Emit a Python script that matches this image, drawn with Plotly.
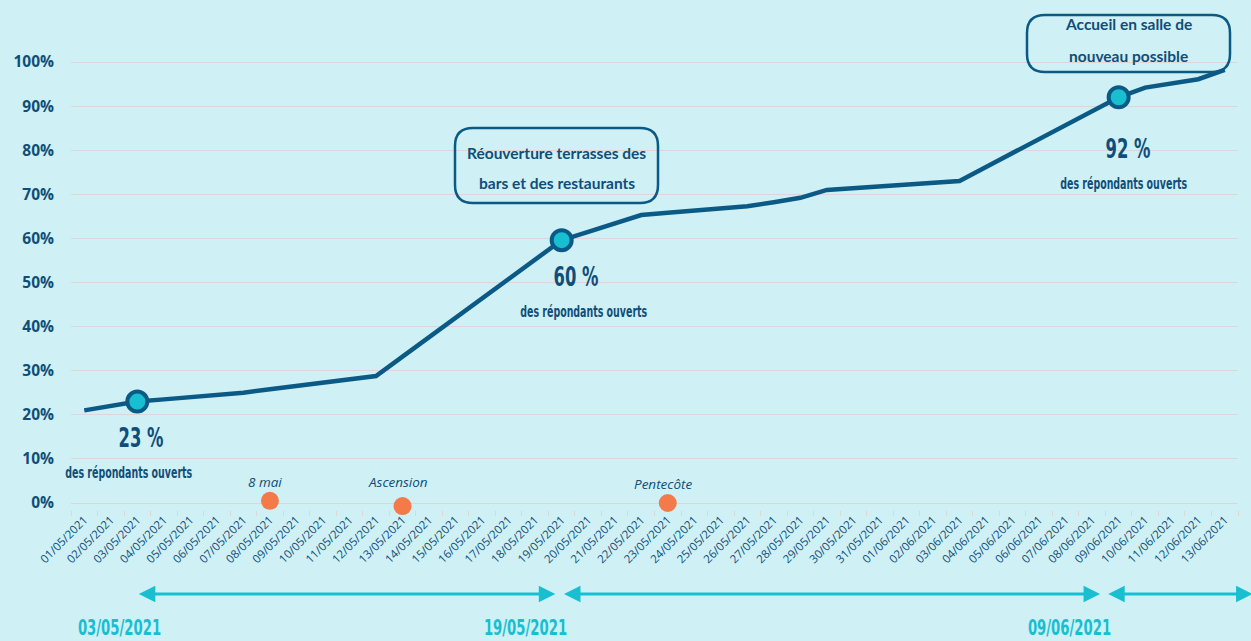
import json
import plotly.graph_objects as go

# ---------------- data ----------------
dates = [
    "01/05/2021", "02/05/2021", "03/05/2021", "04/05/2021", "05/05/2021", "06/05/2021",
    "07/05/2021", "08/05/2021", "09/05/2021", "10/05/2021", "11/05/2021", "12/05/2021",
    "13/05/2021", "14/05/2021", "15/05/2021", "16/05/2021", "17/05/2021", "18/05/2021",
    "19/05/2021", "20/05/2021", "21/05/2021", "22/05/2021", "23/05/2021", "24/05/2021",
    "25/05/2021", "26/05/2021", "27/05/2021", "28/05/2021", "29/05/2021", "30/05/2021",
    "31/05/2021", "01/06/2021", "02/06/2021", "03/06/2021", "04/06/2021", "05/06/2021",
    "06/06/2021", "07/06/2021", "08/06/2021", "09/06/2021", "10/06/2021", "11/06/2021",
    "12/06/2021", "13/06/2021",
]
pct_open = [
    21.0, 22.0, 23.0, 23.5, 24.0, 24.5,
    25.0, 25.8, 26.5, 27.2, 28.0, 28.8,
    33.2, 37.6, 42.0, 46.4, 50.8, 55.2,
    59.6, 61.5, 63.4, 65.3, 65.8, 66.3,
    66.8, 67.3, 68.2, 69.2, 71.0, 71.4,
    71.8, 72.2, 72.6, 73.0, 76.2, 79.4,
    82.5, 85.6, 88.8, 92.0, 94.2, 95.2,
    96.1, 98.2,
]
key_dates = ["03/05/2021", "19/05/2021", "09/06/2021"]
key_labels = ["23 %", "60 %", "92 %"]
key_sub = "des répondants ouverts"

holiday_names = ["8 mai", "Ascension", "Pentecôte"]
holiday_dates = ["08/05/2021", "13/05/2021", "23/05/2021"]
holiday_vals = [0.5, -0.7, 0.0]

event_lines = [
    ["Réouverture terrasses des", "bars et des restaurants"],
    ["Accueil en salle de", "nouveau possible"],
]
phase_labels = ["03/05/2021", "19/05/2021", "09/06/2021"]
y_ticks = list(range(0, 101, 10))
y_ticktext = [f"{v}%" for v in y_ticks]

# ---------------- styles ----------------
BG = "#CFF0F5"
NAVY = "#0B5A86"
TXT = "#0F4E78"
CYAN = "#17BFD1"
ORANGE = "#F47B49"
GRID = "#DCD7D7"
NARROW = "DejaVu Sans Condensed, DejaVu Sans, sans-serif"

W, H = 1251, 641
ML, MR, MT, MB = 71, 13, 40, 131
PLOT_W = W - ML - MR
PLOT_H = H - MT - MB
Y0_PX, PX_PER_UNIT = 503, 4.41  # pixel row of 0% and pixels per percent
yrange = [(Y0_PX - (H - MB)) / PX_PER_UNIT, (Y0_PX - MT) / PX_PER_UNIT]


def px_x(px):
    return (px - ML) / PLOT_W


def px_y(py):
    return ((H - MB) - py) / PLOT_H


fig = go.Figure()

# main line
fig.add_trace(go.Scatter(
    x=dates, y=pct_open, mode="lines",
    line=dict(color=NAVY, width=4.5), hoverinfo="skip", showlegend=False,
))

# key points
key_vals = [pct_open[dates.index(d)] for d in key_dates]
fig.add_trace(go.Scatter(
    x=key_dates, y=key_vals, mode="markers",
    marker=dict(size=20, color=CYAN, line=dict(color=NAVY, width=4)),
    showlegend=False, hoverinfo="skip",
))

# holidays
fig.add_trace(go.Scatter(
    x=holiday_dates, y=holiday_vals, mode="markers",
    marker=dict(size=18, color=ORANGE),
    showlegend=False, hoverinfo="skip", cliponaxis=False,
))

annotations = []
# holiday labels
for name, d, v in zip(holiday_names, holiday_dates, holiday_vals):
    annotations.append(dict(
        x=d, y=v, xref="x", yref="y", text=name, showarrow=False,
        xanchor="center", yanchor="middle",
        yshift=19 if name != "Ascension" else 24, xshift=-5,
        font=dict(family="Open Sans, sans-serif", size=13.5, color=TXT, style="italic"),
    ))

# key point labels
big_shift = [(4, -36), (14, -37), (9, -52)]
sub_shift = [(-9, -71), (22, -72), (5, -87)]
for d, v, lab, bs, ss in zip(key_dates, key_vals, key_labels, big_shift, sub_shift):
    annotations.append(dict(
        x=d, y=v, xref="x", yref="y", text=lab, showarrow=False,
        xanchor="center", yanchor="middle",
        xshift=bs[0], yshift=bs[1],
        font=dict(family=NARROW, size=26, color=TXT, weight="bold"),
    ))
    annotations.append(dict(
        x=d, y=v, xref="x", yref="y", text=key_sub, showarrow=False,
        xanchor="center", yanchor="middle",
        xshift=ss[0], yshift=ss[1],
        font=dict(family=NARROW, size=15, color=TXT, weight="bold"),
    ))

# event boxes (pixel layout converted to paper coords)
boxes_px = [(455, 128, 658, 203), (1027, 15, 1230, 72)]
box_line_y = [(153, 183), (24, 56)]
shapes = []
for (x0, y0, x1, y1), lines, ly in zip(boxes_px, event_lines, box_line_y):
    r = 18
    X0, X1 = px_x(x0), px_x(x1)
    Y0, Y1 = px_y(y1), px_y(y0)
    rx, ry = r / PLOT_W, r / PLOT_H
    path = (f"M{X0+rx},{Y0} L{X1-rx},{Y0} Q{X1},{Y0} {X1},{Y0+ry} "
            f"L{X1},{Y1-ry} Q{X1},{Y1} {X1-rx},{Y1} L{X0+rx},{Y1} "
            f"Q{X0},{Y1} {X0},{Y1-ry} L{X0},{Y0+ry} Q{X0},{Y0} {X0+rx},{Y0} Z")
    shapes.append(dict(type="path", path=path, xref="paper", yref="paper",
                       line=dict(color=NAVY, width=2.5), fillcolor="rgba(0,0,0,0)",
                       layer="above"))
    cx = px_x((x0 + x1) / 2)
    for t, yy in zip(lines, ly):
        annotations.append(dict(
            x=cx, y=px_y(yy), xref="paper", yref="paper", text=t, showarrow=False,
            xanchor="center", yanchor="middle",
            font=dict(family="Lato, sans-serif", size=15.5, color=TXT, weight="bold"),
        ))

# phase arrows along the bottom
arrow_y = px_y(594)
idx = {d: i for i, d in enumerate(dates)}
segments = [
    (idx[phase_labels[0]], idx[phase_labels[1]] - 0.24),
    (idx[phase_labels[1]] + 0.03, idx[phase_labels[2]] - 0.7),
    (idx[phase_labels[2]] - 0.45, len(dates) + 0.05),
]
for s, e in segments:
    annotations.append(dict(
        x=e, y=arrow_y, xref="x", yref="paper",
        ax=s, ay=0, axref="x", ayref="pixel",
        showarrow=True, arrowside="end+start", arrowhead=2, startarrowhead=2,
        arrowsize=1.1, startarrowsize=1.1, arrowwidth=3, arrowcolor=CYAN, text="",
    ))
label_shift = [-18, -36, -49]
for d, sh in zip(phase_labels, label_shift):
    annotations.append(dict(
        x=d, y=px_y(628), xref="x", yref="paper", text=d, showarrow=False,
        xanchor="center", yanchor="middle", xshift=sh,
        font=dict(family=NARROW, size=21, color=CYAN, weight="bold"),
    ))

fig.update_layout(
    width=W, height=H,
    margin=dict(l=ML, r=MR, t=MT, b=MB),
    paper_bgcolor=BG, plot_bgcolor=BG,
    showlegend=False,
    annotations=annotations, shapes=shapes,
    xaxis=dict(
        type="category", categoryorder="array", categoryarray=dates,
        range=[-0.5, len(dates) - 0.5],
        tickangle=-45, tickson="boundaries", ticks="outside", ticklen=5,
        tickcolor=GRID, showgrid=False, zeroline=False, showline=False,
        tickfont=dict(family="Open Sans, sans-serif", size=11.5, color=TXT),
    ),
    yaxis=dict(
        range=yrange, tickvals=y_ticks, ticktext=y_ticktext,
        showgrid=True, gridcolor=GRID, gridwidth=1, zeroline=False,
        ticks="", ticklabelstandoff=16,
        tickfont=dict(family="Open Sans, sans-serif", size=15.5, color=TXT, weight="bold"),
    ),
)

# page setup: remove default body margin and condense the narrow-font labels
narrow_texts = key_labels + [key_sub] + phase_labels
post_js = (
    "document.body.style.margin='0';"
    f"document.body.style.background='{BG}';"
    f"var narrow={json.dumps(narrow_texts)};"
    "document.querySelectorAll('.annotation-text').forEach(function(el){"
    "if(narrow.indexOf(el.textContent)>=0){"
    "el.style.transformBox='fill-box';el.style.transformOrigin='center';"
    "el.style.transform='scaleX(0.7)';}});"
)

fig.write_html("out.html", post_script=post_js, config={"displayModeBar": False})
